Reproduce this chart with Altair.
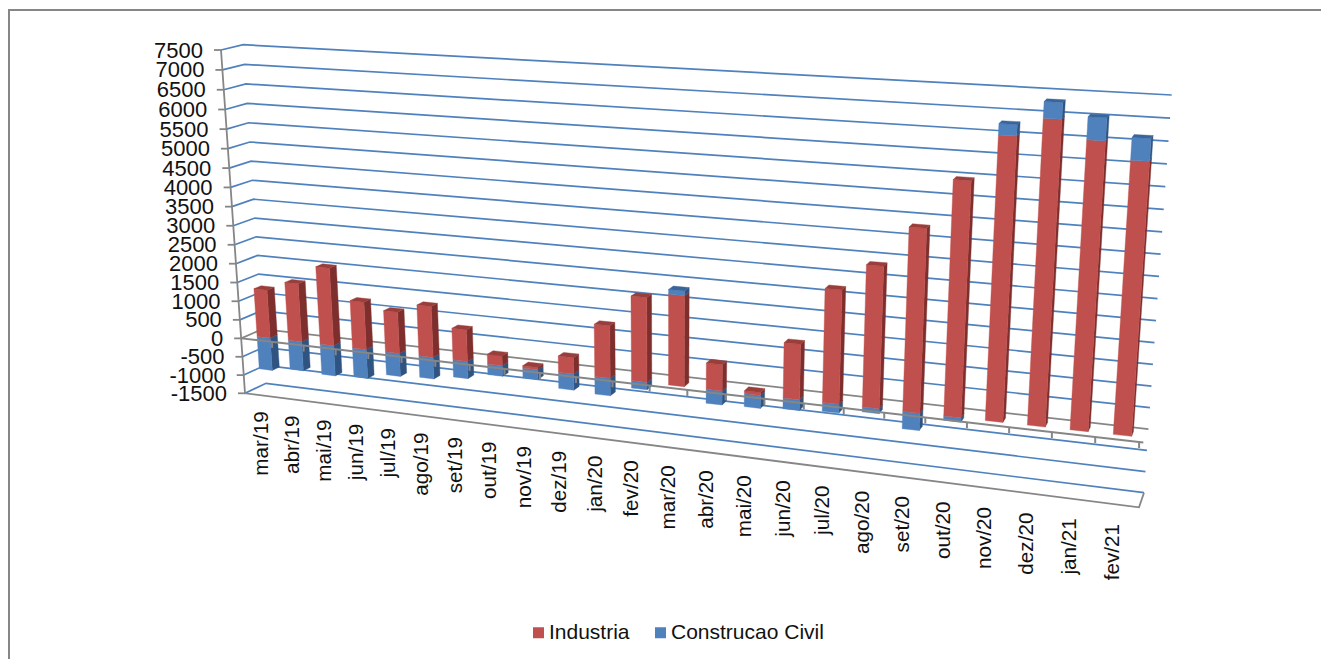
import altair as alt
import pandas as pd

categories = ["mar/19","abr/19","mai/19","jun/19","jul/19","ago/19","set/19","out/19","nov/19","dez/19","jan/20","fev/20",
              "mar/20","abr/20","mai/20","jun/20","jul/20","ago/20","set/20","out/20","nov/20","dez/20","jan/21","fev/21"]
industria = [1287,1547,2051,1252,1084,1329,822,252,60,415,1320,2118,
             2255,650,70,1353,2745,3388,4342,5494,6551,6976,6555,6168]
construcao = [-882,-783,-813,-770,-608,-566,-447,-278,-250,-416,-450,-187,
              115,-348,-322,-264,-215,-119,-417,-103,254,364,502,494]
ticks = list(range(-1500, 8000, 500))

# corners of the 3D box as drawn
FLB, FLT = (245, 393.3), (221, 50)
BLB, BLT = (266, 383.3), (243.3, 44.7)
BRB, BRT = (1144, 492.7), (1171.7, 95)
FRB, FRT = (1139, 507.3), (1166, 103)
RED, RED_S, RED_T = "#C0504D", "#7E2F2D", "#9A3E3C"
BLU, BLU_S, BLU_T = "#4F81BD", "#2F5482", "#3A659B"
GRID, GRAY = "#4F81BD", "#868686"


def lerp(a, b, t):
    return (a[0] + (b[0] - a[0]) * t, a[1] + (b[1] - a[1]) * t)


def warp(v):
    x = (v + 1500) / 9000
    return x + 0.048 * x * (x - 1)


def cell(j):
    return (30.65 * j + 0.281 * j * j) / 901.7


def P(u, d, v):
    w = warp(v)
    fl, fr = lerp(FLB, FLT, w), lerp(FRB, FRT, w)
    bl, br = lerp(BLB, BLT, w), lerp(BRB, BRT, w)
    return lerp(lerp(fl, fr, u), lerp(bl, br, u), d)


def B(u, d, v):
    """A point on a bar: the bars sit a little off the wall's straight perspective."""
    x, y = P(u, d, v)
    return (x + min(3.5, 8.75 * u), y + 7.2 * u * (1 - u))


polys = []
lid = 0


def add_line(target, pts, color, width=1.5):
    global lid
    lid += 1
    for k, (x, y) in enumerate(pts):
        target.append(dict(id=lid, k=k, x=x, y=y, c=color, w=width))


under, over = [], []
for v in ticks:
    col = GRAY if v == 0 else GRID
    add_line(under, [P(0, 0, v), P(0, 1, v), P(1, 1, v)], col, 1.7)
add_line(under, [P(0, 0, 7500), P(0, 0, -1500), P(1, 0, -1500), P(1, 1, -1500)], GRAY, 1.8)
for v in ticks:
    a = P(0, 0, v)
    add_line(under, [(a[0] - 7, a[1]), a], GRAY, 1.8)

add_line(over, [P(0, 0, 0), P(1, 0, 0)], GRAY, 2)
for i in range(1, len(categories) + 1):
    a = P(cell(i), 0, 0)
    add_line(over, [a, (a[0], a[1] + 6)], GRAY, 2)

frame = []
add_line(frame, [(9, 659), (9, 10), (1321, 10)], GRAY, 2)

D1, D2 = 0.33, 0.67


def poly(pts, color):
    global lid
    lid += 1
    for k, (x, y) in enumerate(pts):
        polys.append(dict(id=lid, k=k, x=x, y=y, c=color))


def segment(i, lo, hi, front, side):
    u1, u2 = cell(i + 0.29), cell(i + 0.71)
    poly([B(u2, D1, lo), B(u2, D2, lo), B(u2, D2, hi), B(u2, D1, hi)], side)
    poly([B(u1, D1, lo), B(u2, D1, lo), B(u2, D1, hi), B(u1, D1, hi)], front)


def top(i, v, color):
    u1, u2 = cell(i + 0.29), cell(i + 0.71)
    poly([B(u1, D1, v), B(u2, D1, v), B(u2, D2, v), B(u1, D2, v)], color)


for i, (r, b) in enumerate(zip(industria, construcao)):
    if b < 0:
        segment(i, b, 0, BLU, BLU_S)
        segment(i, 0, r, RED, RED_S)
        top(i, r, RED_T)
    else:
        segment(i, 0, r, RED, RED_S)
        segment(i, r, r + b, BLU, BLU_S)
        top(i, r + b, BLU_T)

ylab = []
for v in ticks:
    a = P(0, 0, v)
    ylab.append(dict(x=a[0] - 18, y=a[1] + 0.5, t=str(v)))
xlab = []
for i, c in enumerate(categories):
    u = cell(i + 0.5)
    a = lerp(FLB, FRB, u)
    xlab.append(dict(x=a[0] + 2 * (1 - u), y=a[1] + 16 + 4 * u, t=c))

W, H = 1313, 651
X = alt.X("x:Q", scale=alt.Scale(domain=[8, 8 + W], range=[0, W]), axis=None)
Y = alt.Y("y:Q", scale=alt.Scale(domain=[8 + H, 8], range=[H, 0]), axis=None)


def line_layer(rows):
    return alt.Chart(pd.DataFrame(rows)).mark_line(clip=False, strokeCap="butt").encode(
        x=X, y=Y, detail="id:N", order="k:Q",
        color=alt.Color("c:N", scale=None),
        strokeWidth=alt.StrokeWidth("w:Q", scale=None),
    )


bars = alt.Chart(pd.DataFrame(polys)).mark_line(strokeWidth=0.4, interpolate="linear-closed").encode(
    x=X, y=Y, detail="id:N", order="k:Q",
    color=alt.Color("c:N", scale=None),
    fill=alt.Fill("c:N", scale=None),
)


def text_layer(rows, **kw):
    return alt.Chart(pd.DataFrame(rows)).mark_text(font="Liberation Sans", color="#111111", **kw).encode(
        x=X, y=Y, text="t:N")


legend_df = pd.DataFrame({"x": [263, 263], "y": [300, 300], "s": ["Industria", "Construcao Civil"]})
legend = alt.Chart(legend_df).mark_square(size=1, opacity=1).encode(
    x=X, y=Y,
    fill=alt.Fill("s:N", sort=["Industria", "Construcao Civil"],
                  scale=alt.Scale(domain=["Industria", "Construcao Civil"], range=[RED, BLU]),
                  legend=alt.Legend(title=None, orient="none", legendX=520, legendY=614, direction="horizontal",
                                    symbolType="square", symbolSize=121, symbolStrokeWidth=0,
                                    labelFont="Liberation Sans", labelFontSize=21, labelColor="#111111",
                                    columnPadding=20, labelOffset=0, columns=2)),
)

chart = alt.layer(
    line_layer(frame), line_layer(under), legend, bars, line_layer(over),
    text_layer(ylab, align="right", baseline="middle", fontSize=22),
    text_layer(xlab, align="right", baseline="middle", angle=270, fontSize=20.7),
).resolve_scale(fill="independent", color="independent").properties(
    width=W, height=H, padding=0, autosize=alt.AutoSizeParams(type="none"),
).configure_view(stroke=None)

chart.save("out.html", embed_options={"renderer": "svg", "actions": False})
